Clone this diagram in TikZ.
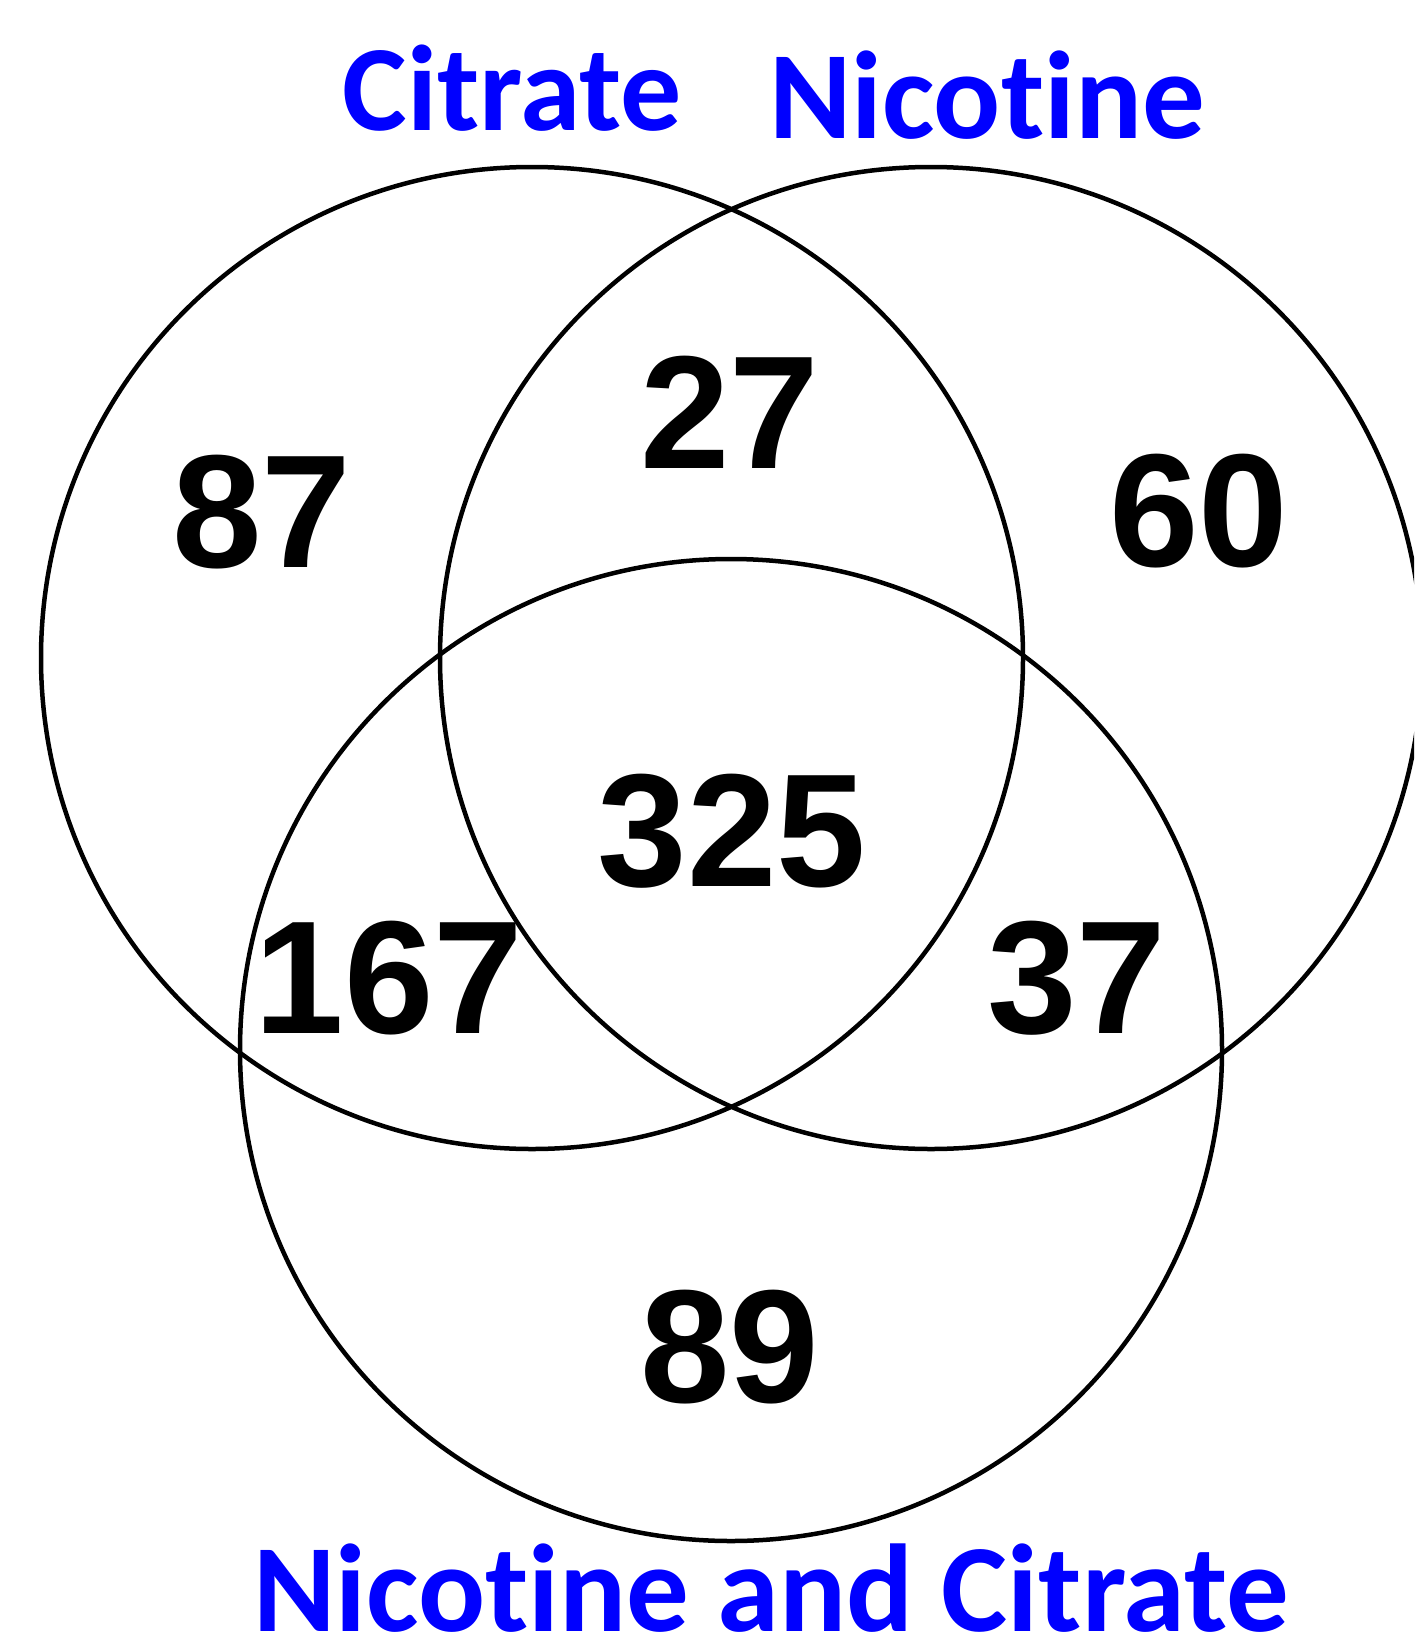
\documentclass[tikz,border=0pt]{standalone}
\usepackage{fontspec}
\setmainfont{Liberation Sans}
\newfontfamily\labfont[Ligatures={NoCommon}]{Carlito}
\newfontfamily\numfont{Liberation Sans}
\definecolor{labblue}{RGB}{0,0,255}
\begin{document}
\begin{tikzpicture}[x=1pt,y=-1pt,
  setcircle/.style={draw=black,line width=4.5pt},
  countlabel/.style={inner sep=0pt,anchor=base,font=\numfont\bfseries\fontsize{161}{161}\selectfont},
  setlabel/.style={inner sep=0pt,anchor=base,text=labblue,font=\labfont\bfseries\fontsize{125}{125}\selectfont}]
\useasboundingbox (0,0) rectangle (1414,1643);
\clip (0,0) rectangle (1414,1643);
% circles
\draw[setcircle] (532,658) circle[radius=491];
\draw[setcircle] (931,658) circle[radius=491];
\draw[setcircle] (731,1050) circle[radius=491];
% set labels
\node[setlabel,font=\labfont\bfseries\fontsize{122}{122}\selectfont] (labA) at (512,131) {Citrate};
\node[setlabel] (labB) at (987,139) {Nicotine};
\node[setlabel] (labC) at (771,1631) {Nicotine and Citrate};
% counts
\node[countlabel] (nA) at (262,567) {87};
\node[countlabel] (nAB) at (730,468) {27};
\node[countlabel] (nB) at (1199,566) {60};
\node[countlabel] (nABC) at (732,886) {325};
\node[countlabel] (nAC) at (389,1033) {167};
\node[countlabel] (nBC) at (1077,1033) {37};
\node[countlabel] (nC) at (730,1402) {89};
\end{tikzpicture}
\end{document}
